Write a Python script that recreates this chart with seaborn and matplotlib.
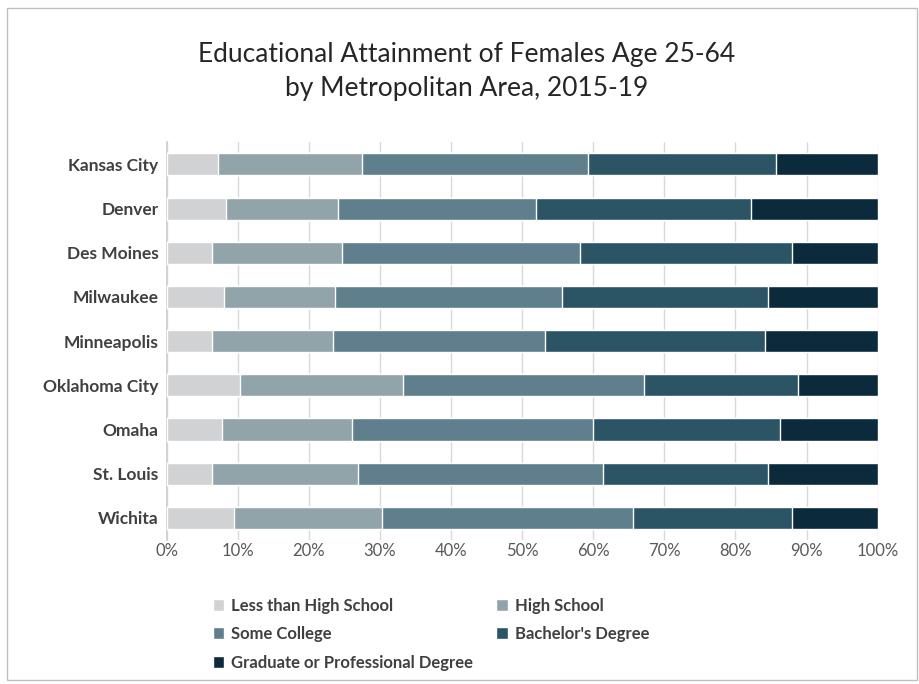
import pandas as pd
import seaborn as sns
import matplotlib.pyplot as plt
from matplotlib.patches import Rectangle
from matplotlib.ticker import PercentFormatter

sns.set_theme(style="white")
plt.rcParams['font.family'] = ['Lato', 'DejaVu Sans']

metros = ["Kansas City", "Denver", "Des Moines", "Milwaukee", "Minneapolis",
          "Oklahoma City", "Omaha", "St. Louis", "Wichita"]
levels = ["Less than High School", "High School", "Some College",
          "Bachelor's Degree", "Graduate or Professional Degree"]

# percent of females 25-64 in each level
less_than_hs = [7.2, 8.3, 6.4, 8.0, 6.4, 10.3, 7.8, 6.4, 9.4]
high_school = [20.2, 15.8, 18.2, 15.6, 17.0, 22.9, 18.2, 20.5, 20.9]
some_college = [31.8, 27.9, 33.5, 32.0, 29.8, 34.0, 33.9, 34.4, 35.3]
bachelors = [26.5, 30.2, 29.8, 29.0, 31.0, 21.6, 26.4, 23.3, 22.3]
graduate = [14.3, 17.8, 12.1, 15.4, 15.8, 11.2, 13.7, 15.4, 12.1]

colors = ["#d0d2d4", "#91a4a9", "#5f7f8c", "#2b5465", "#0b2a3b"]

df = pd.DataFrame({"metro": metros,
                   levels[0]: less_than_hs, levels[1]: high_school,
                   levels[2]: some_college, levels[3]: bachelors,
                   levels[4]: graduate})
cum = df[levels].cumsum(axis=1)
cum["metro"] = df["metro"]

fig = plt.figure(figsize=(9.19, 6.84), dpi=100)
ax = fig.add_axes([0.1815, 0.2105, 0.7735, 0.5815])

# draw cumulative totals from the back (longest) to the front
for lvl, col in reversed(list(zip(levels, colors))):
    sns.barplot(data=cum, x=lvl, y="metro", color=col, orient="h",
                width=0.5, saturation=1, label=lvl, ax=ax, zorder=3)

ax.set_xlim(0, 100)
ax.set_xticks(range(0, 101, 10))
ax.xaxis.set_major_formatter(PercentFormatter(decimals=0))
ax.set_xlabel("")
ax.set_ylabel("")
ax.xaxis.grid(True, color="#d9d9d9", linewidth=1, zorder=0)
ax.set_axisbelow(True)
for s in ["top", "right", "bottom"]:
    ax.spines[s].set_visible(False)
ax.spines["left"].set_color("#d0d0d0")
ax.tick_params(axis="x", labelsize=12, labelcolor="#595959", pad=2, length=0)
ax.tick_params(axis="y", labelsize=12.5, labelcolor="#404040", pad=6, length=0)
for t in ax.get_yticklabels():
    t.set_fontweight("bold")

fig.text(0.508, 0.8955, "Educational Attainment of Females Age 25-64\nby Metropolitan Area, 2015-19",
         ha="center", va="center", fontsize=19, color="#262626", linespacing=1.45)

handles, labels = ax.get_legend_handles_labels()
if ax.get_legend() is not None:
    ax.get_legend().remove()
lookup = dict(zip(labels, handles))
order = [levels[0], levels[2], levels[4], levels[1], levels[3]]
leg = fig.legend([lookup[l] for l in order], order, ncol=2, loc="center left",
                 bbox_to_anchor=(0.215, 0.073), frameon=False, fontsize=12,
                 handlelength=0.7, handleheight=0.7, handletextpad=0.4,
                 columnspacing=1.4, labelspacing=0.75)
for t in leg.get_texts():
    t.set_color("#404040")
    t.set_fontweight("bold")

fig.patches.append(Rectangle((7 / 919, 4 / 684), 910 / 919, 672 / 684,
                             transform=fig.transFigure, fill=False,
                             edgecolor="#bfbfbf", linewidth=1))

fig.savefig("out.png", dpi=100)
